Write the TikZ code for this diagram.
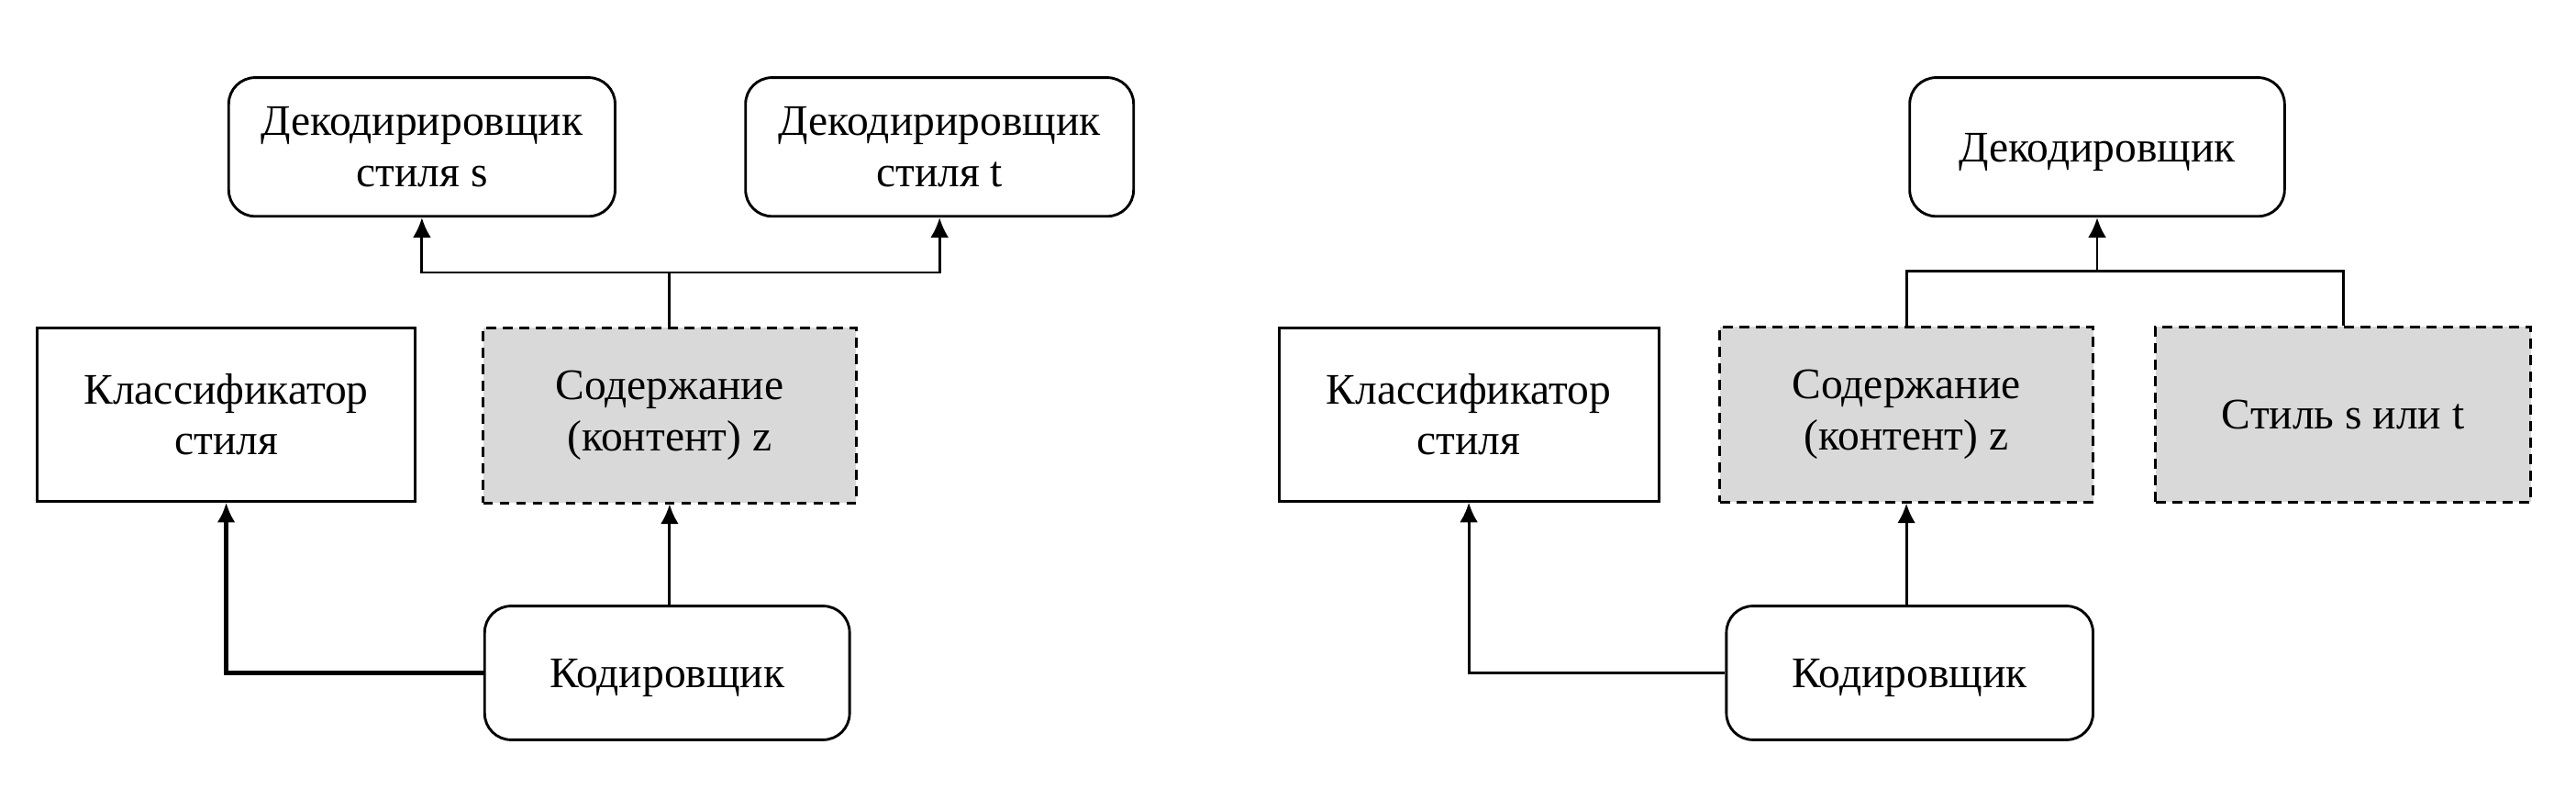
\documentclass[tikz,border=0pt]{standalone}
\usepackage{fontspec}
\setmainfont{Liberation Serif}
\usetikzlibrary{arrows.meta}

\definecolor{boxgray}{HTML}{D9D9D9}

\tikzset{
  blk/.style={draw, line width=0.8pt, align=center, inner sep=2pt,
    font=\fontsize{13.2}{15.5}\selectfont},
  rblk/.style={blk, rounded corners=8pt},
  hidden/.style={blk, dash pattern=on 3pt off 2pt, fill=boxgray},
  oneline/.style={text height=11pt, text depth=2pt},
  conn/.style={line width=0.8pt},
  arr/.style={conn, -{Latex[length=6pt,width=5.5pt]}}
}

\begin{document}
\begin{tikzpicture}[x=0.5pt,y=-0.5pt]

      \useasboundingbox (0,0) rectangle (1560,491);

      % left panel
      \begin{scope}
        \node[rblk, minimum width=117pt, minimum height=42pt] (ds) at (255.5,89) {Декодирировщик\\стиля s};
        \node[rblk, minimum width=117.5pt, minimum height=42pt] (dt) at (569,89) {Декодирировщик\\стиля t};
        \node[blk, minimum width=114.5pt, minimum height=52.5pt] (cl) at (137,251) {Классификатор\\стиля};
        \node[hidden, minimum width=113pt, minimum height=53pt] (ct) at (405.5,251.5) {Содержание\\(контент) z};
        \node[rblk, oneline, minimum width=110.5pt, minimum height=40.5pt] (en) at (404,407.5) {Кодировщик};
      \end{scope}

      \coordinate (j1) at (405.5,165);
      \draw[conn] (ct.north) -- (j1);
      \draw[arr] (j1) -| (ds.south);
      \draw[arr] (j1) -| (dt.south);
      \draw[arr, line width=1.2pt] (en.west) -| (cl.south);
      \draw[arr] (ct.south |- en.north) -- (ct.south);

      % right panel
      \begin{scope}
        \node[rblk, oneline, minimum width=113.5pt, minimum height=42pt] (dec) at (1270,89) {Декодировщик};
        \node[blk, minimum width=115pt, minimum height=52.5pt] (cl2) at (889.5,251) {Классификатор\\стиля};
        \node[hidden, minimum width=113pt, minimum height=53pt] (ct2) at (1154.5,251) {Содержание\\(контент) z};
        \node[hidden, oneline, minimum width=113.5pt, minimum height=53pt] (st) at (1419,251) {Стиль s или t};
        \node[rblk, oneline, minimum width=111pt, minimum height=40.5pt] (en2) at (1156.5,407.5) {Кодировщик};
      \end{scope}

      \coordinate (j2) at (1270,164);
      \draw[conn] (ct2.north) |- (j2) -| (st.north);
      \draw[arr] (j2) -- (dec.south);
      \draw[arr] (en2.west) -| (cl2.south);
      \draw[arr] (ct2.south |- en2.north) -- (ct2.south);

    \end{tikzpicture}
\end{document}
